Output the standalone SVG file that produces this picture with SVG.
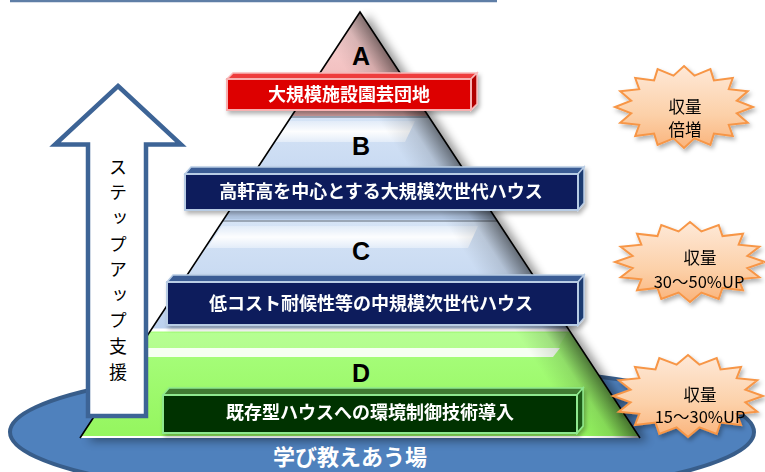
<svg xmlns="http://www.w3.org/2000/svg" width="765" height="472" viewBox="0 0 765 472">
<defs>
<style>
.lbl{font-family:"Noto Sans CJK JP","Noto Sans",sans-serif;font-weight:700;font-size:18px;fill:#fff;text-anchor:middle}
.let{font-family:"Liberation Sans",Arial,sans-serif;font-weight:700;font-size:25px;fill:#000;text-anchor:middle}
.st{font-family:"Noto Sans CJK JP","Noto Sans",sans-serif;font-size:16.5px;fill:#000;text-anchor:middle}
.star{stroke:#f79646;stroke-width:2;fill:url(#starg)}
.edge{fill:none;stroke:#000;stroke-width:1.6}
.gap{stroke:#9aa6b6;stroke-width:2}
</style>
<linearGradient id="pinkA" x1="0" y1="0" x2="0" y2="1"><stop offset="0" stop-color="#f9d6d6"/><stop offset="1" stop-color="#eeb2b2"/></linearGradient>
<linearGradient id="blueL" x1="0" y1="0" x2="0" y2="1"><stop offset="0" stop-color="#d6e4f6"/><stop offset="1" stop-color="#bcd1ee"/></linearGradient>
<linearGradient id="greenL" x1="0" y1="0" x2="0" y2="1"><stop offset="0" stop-color="#aaff80"/><stop offset="1" stop-color="#94f55e"/></linearGradient>
<linearGradient id="rshade" gradientUnits="userSpaceOnUse" x1="390" y1="138" x2="427" y2="114"><stop offset="0" stop-color="#000" stop-opacity="0"/><stop offset="0.55" stop-color="#000" stop-opacity="0.12"/><stop offset="1" stop-color="#000" stop-opacity="0.5"/></linearGradient>
<linearGradient id="hl" x1="0" y1="0" x2="0" y2="1"><stop offset="0" stop-color="#fff" stop-opacity="0.3"/><stop offset="0.5" stop-color="#fff" stop-opacity="0.95"/><stop offset="1" stop-color="#fff" stop-opacity="0.4"/></linearGradient>
<linearGradient id="starg" x1="0" y1="0" x2="0" y2="1"><stop offset="0" stop-color="#fee9d8"/><stop offset="0.6" stop-color="#fcd0a8"/><stop offset="1" stop-color="#fab47c"/></linearGradient>
<clipPath id="pyrclip"><polygon points="360,12 640,438 80,438"/></clipPath>
<filter id="blur5" x="-20%" y="-20%" width="140%" height="140%"><feGaussianBlur stdDeviation="5"/></filter>
<filter id="sh" x="-20%" y="-20%" width="140%" height="140%"><feDropShadow dx="2" dy="3" stdDeviation="2" flood-color="#000" flood-opacity="0.3"/></filter>
<path id="starP" vector-effect="non-scaling-stroke" d="M0,-1 L0.1522,-0.765 L0.3827,-0.9239 L0.4334,-0.6486 L0.7071,-0.7071 L0.6486,-0.4334 L0.9239,-0.3827 L0.765,-0.1522 L1,0 L0.765,0.1522 L0.9239,0.3827 L0.6486,0.4334 L0.7071,0.7071 L0.4334,0.6486 L0.3827,0.9239 L0.1522,0.765 L0,1 L-0.1522,0.765 L-0.3827,0.9239 L-0.4334,0.6486 L-0.7071,0.7071 L-0.6486,0.4334 L-0.9239,0.3827 L-0.765,0.1522 L-1,0 L-0.765,-0.1522 L-0.9239,-0.3827 L-0.6486,-0.4334 L-0.7071,-0.7071 L-0.4334,-0.6486 L-0.3827,-0.9239 L-0.1522,-0.765 Z"/>
</defs>
<rect width="765" height="472" fill="#fff"/>
<line x1="10" y1="1" x2="497" y2="1" stroke="#5f7ea6" stroke-width="2.5"/>

<g id="base-ellipse">
<ellipse cx="382" cy="432" rx="372" ry="68" fill="#4f81bd" stroke="#385d8a" stroke-width="4"/>
</g>

<g id="pyramid">
<polygon points="360,12 640,438 80,438" fill="#000" opacity="0.4" filter="url(#blur5)" transform="translate(8,3)"/>
<g clip-path="url(#pyrclip)">
<polygon points="360,12 430,116 290,116" fill="url(#pinkA)"/>
<rect x="80" y="116" width="560" height="104" fill="url(#blueL)"/>
<rect x="80" y="220" width="560" height="110" fill="url(#blueL)"/>
<rect x="80" y="330" width="560" height="108" fill="url(#greenL)"/>
<polygon points="289,121 415,121 405,142 275,142" fill="url(#hl)"/>
<polygon points="222,226 478,226 468,248 207,248" fill="url(#hl)"/>
<polygon points="150,333 567,333 558,348 140,348" fill="#fff" opacity="0.15"/>
<polygon points="140,348 560,348 553,357 134,357" fill="#fff" opacity="0.9"/>
<rect x="80" y="210" width="560" height="9" fill="#a9bdd8" opacity="0.6"/>
<rect x="80" y="108" width="560" height="8" fill="#8a7070" opacity="0.35"/>
<line class="gap" x1="80" y1="117" x2="640" y2="117"/>
<line class="gap" x1="80" y1="221" x2="640" y2="221"/>
<line x1="80" y1="330" x2="640" y2="330" stroke="#fff" stroke-width="3"/>
<line x1="80" y1="437" x2="640" y2="437" stroke="#fff" stroke-width="2"/>
<polygon points="360,12 640,438 80,438" fill="url(#rshade)"/>
</g>
<path class="edge" d="M80,438 L360,12 L640,438"/>
</g>

<g id="label-a" filter="url(#sh)">
<polygon points="227,79 233,73 477,73 471,79" fill="#ee3c3c" stroke="#f8b8b8" stroke-width="1.5"/>
<polygon points="471,79 477,73 477,104 471,110" fill="#b00000" stroke="#f8b8b8" stroke-width="1.5"/>
<rect x="227" y="79" width="244" height="31" fill="#dd0000" stroke="#f7b0b0" stroke-width="2"/>
<text class="lbl" x="349" y="101">大規模施設園芸団地</text>
</g>

<g id="label-b" filter="url(#sh)">
<polygon points="185,174 191,167 584,167 578,174" fill="#3a5c94" stroke="#b8cce4" stroke-width="1.5"/>
<polygon points="578,174 584,167 584,203 578,210" fill="#1f3a70" stroke="#b8cce4" stroke-width="1.5"/>
<rect x="185" y="174" width="393" height="36" fill="#0c1f5c" stroke="#b8cce4" stroke-width="2"/>
<text class="lbl" x="381" y="198">高軒高を中心とする大規模次世代ハウス</text>
</g>

<g id="label-c" filter="url(#sh)">
<polygon points="167,282 173,275 584,275 578,282" fill="#3a5c94" stroke="#b8cce4" stroke-width="1.5"/>
<polygon points="578,282 584,275 584,318 578,325" fill="#1f3a70" stroke="#b8cce4" stroke-width="1.5"/>
<rect x="167" y="282" width="411" height="43" fill="#0c1f5c" stroke="#b8cce4" stroke-width="2"/>
<text class="lbl" x="371" y="310">低コスト耐候性等の中規模次世代ハウス</text>
</g>

<g id="label-d" filter="url(#sh)">
<polygon points="163,395 169,388 583,388 577,395" fill="#3f7a30" stroke="#8ee88e" stroke-width="1.5"/>
<polygon points="577,395 583,388 583,426 577,433" fill="#1f5a18" stroke="#8ee88e" stroke-width="1.5"/>
<rect x="163" y="395" width="414" height="38" fill="#003300" stroke="#8ee88e" stroke-width="2"/>
<text class="lbl" x="370" y="419">既存型ハウスへの環境制御技術導入</text>
</g>

<g id="letters">
<text class="let" x="361" y="65">A</text>
<text class="let" x="361" y="155">B</text>
<text class="let" x="361" y="260">C</text>
<text class="let" x="361" y="382">D</text>
</g>

<g id="base-text">
<text x="350" y="465" font-family="Noto Sans CJK JP, sans-serif" font-weight="700" font-size="22" fill="#fff" text-anchor="middle">学び教えあう場</text>
</g>

<g id="step-arrow">
<path d="M118,86 L181,144.5 L146,144.5 L146,416 L88,416 L88,144.5 L55,144.5 Z" fill="#fff" stroke="#3d6496" stroke-width="4.5"/>
<text x="118" y="158" font-family="Noto Sans CJK JP, sans-serif" font-size="18" fill="#000" style="writing-mode:vertical-rl" letter-spacing="7.6">ステップアップ支援</text>
</g>

<g id="star-1" filter="url(#sh)">
<use href="#starP" class="star" transform="translate(684,107) scale(69,41)"/>
<text class="st" x="685" y="113">収量</text>
<text class="st" x="685" y="136">倍増</text>
</g>
<g id="star-2" filter="url(#sh)">
<use href="#starP" class="star" transform="translate(690,262) scale(75,40)"/>
<text class="st" x="700" y="264">収量</text>
<text class="st" x="699" y="288">30～50%UP</text>
</g>
<g id="star-3" filter="url(#sh)">
<use href="#starP" class="star" transform="translate(688,396) scale(75,41)"/>
<text class="st" x="700" y="401">収量</text>
<text class="st" x="700" y="423">15～30%UP</text>
</g>
</svg>
